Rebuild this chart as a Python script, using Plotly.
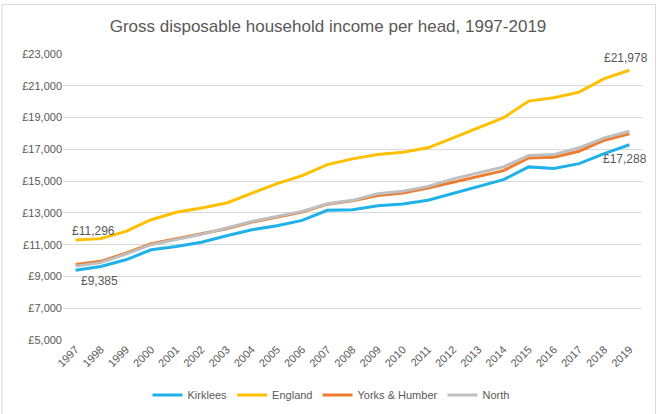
import plotly.graph_objects as go

years = list(range(1997, 2020))
kirklees = [9385, 9625, 10047, 10678, 10888, 11150, 11560, 11940, 12190, 12530, 13160, 13200,
            13450, 13560, 13800, 14230, 14670, 15095, 15895, 15790, 16100, 16735, 17288]
england = [11296, 11380, 11833, 12571, 13044, 13309, 13625, 14256, 14842, 15347, 16041, 16400,
           16672, 16817, 17095, 17726, 18356, 18987, 20035, 20249, 20603, 21448, 21978]
yorks = [9750, 9950, 10470, 11057, 11370, 11700, 12000, 12420, 12740, 13060, 13550, 13760,
         14100, 14250, 14570, 14950, 15300, 15660, 16460, 16500, 16880, 17575, 17975]
north = [9650, 9870, 10400, 11000, 11320, 11650, 12050, 12465, 12780, 13095, 13580, 13790,
         14210, 14357, 14670, 15140, 15520, 15895, 16610, 16670, 17095, 17725, 18140]
y_ticks = list(range(5000, 23001, 2000))

series = [
    ("Kirklees", kirklees, "#1fb1ea"),
    ("England", england, "#ffc000"),
    ("Yorks & Humber", yorks, "#ed7d31"),
    ("North", north, "#bfbfbf"),
]

font = "Liberation Sans, Arial, sans-serif"
grey_txt = "#595959"

fig = go.Figure()
for name, vals, col in series:
    fig.add_trace(go.Scatter(x=years, y=vals, name=name, mode="lines",
                             line=dict(color=col, width=3), hoverinfo="skip"))

def fmt(v):
    return "£{:,}".format(v)

# (x, y, xshift, yshift)
label_specs = [
    (years[0], england[0], 18, 9),
    (years[0], kirklees[0], 24, -11),
    (years[-1], england[-1], -3, 12),
    (years[-1], kirklees[-1], -4, -14),
]
annotations = [dict(x=x, y=y, xref="x", yref="y", text=fmt(y), showarrow=False,
                    xanchor="center", yanchor="middle", xshift=xs, yshift=ys,
                    font=dict(size=12, color=grey_txt, family=font))
               for x, y, xs, ys in label_specs]

fig.update_layout(
    width=659, height=414,
    margin=dict(l=63, r=17, t=54, b=74),
    paper_bgcolor="white", plot_bgcolor="white",
    title=dict(text="Gross disposable household income per head, 1997-2019",
               x=328 / 659, xanchor="center", xref="container", y=1 - 26 / 414, yanchor="middle",
               font=dict(size=17, color=grey_txt, family=font)),
    xaxis=dict(range=[1996.5, 2019.5], tickmode="array", tickvals=years,
               ticktext=[str(y) for y in years], tickangle=-45, showgrid=False,
               zeroline=False, showline=False, ticks="", automargin=False,
               tickfont=dict(size=11, color=grey_txt, family=font)),
    yaxis=dict(range=[5000, 23000], tickmode="array", tickvals=y_ticks,
               ticktext=[fmt(v) for v in y_ticks], showgrid=True, gridcolor="#d9d9d9",
               gridwidth=1, zeroline=False, showline=False, ticks="", automargin=False,
               tickfont=dict(size=11, color=grey_txt, family=font)),
    legend=dict(orientation="h", xref="container", yref="container",
                x=331 / 659, xanchor="center", y=1 - 395 / 414, yanchor="middle",
                font=dict(size=11, color=grey_txt, family=font), itemwidth=30,
                bgcolor="rgba(0,0,0,0)"),
    showlegend=True,
    annotations=annotations,
    shapes=[dict(type="rect", xref="paper", yref="paper",
                 x0=(2 - 63) / 579, x1=(655.5 - 63) / 579,
                 y0=(340 - 420) / 286, y1=(340 - 4.5) / 286,
                 line=dict(color="#d9d9d9", width=1), fillcolor="rgba(0,0,0,0)")],
)

fig.write_html("out.html", config={"displayModeBar": False},
               post_script="document.body.style.margin='0';")
